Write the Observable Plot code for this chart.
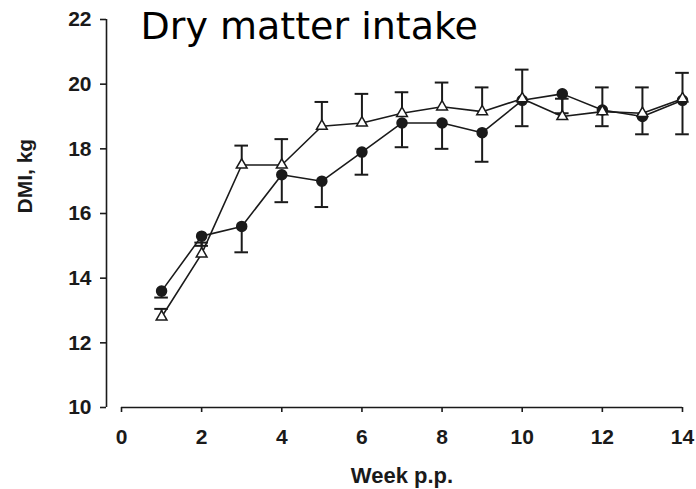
<!DOCTYPE html>
<html>
<head>
<meta charset="utf-8">
<script src="https://cdn.jsdelivr.net/npm/d3@7"></script>
<script src="https://cdn.jsdelivr.net/npm/@observablehq/plot@0.6"></script>
<style>
  html, body { margin: 0; padding: 0; background: #fff; }
</style>
</head>
<body>
<div id="chart"></div>
<script>
const weeks = [1, 2, 3, 4, 5, 6, 7, 8, 9, 10, 11, 12, 13, 14];
const dmiFilled = [13.6, 15.3, 15.6, 17.2, 17.0, 17.9, 18.8, 18.8, 18.5, 19.5, 19.7, 19.2, 19.0, 19.5];
const dmiFilledLow = [13.4, 15.0, 14.8, 16.35, 16.2, 17.2, 18.05, 18.0, 17.6, 18.7, 19.1, 18.7, 18.45, 18.45];
const dmiOpen = [12.8, 14.75, 17.5, 17.5, 18.7, 18.8, 19.1, 19.3, 19.15, 19.55, 19.0, 19.15, 19.1, 19.55];
const dmiOpenHigh = [13.05, 15.1, 18.1, 18.3, 19.45, 19.7, 19.75, 20.05, 19.9, 20.45, 19.55, 19.9, 19.9, 20.35];
const xTicks = [0, 2, 4, 6, 8, 10, 12, 14];
const yTicks = [10, 12, 14, 16, 18, 20, 22];
const titleText = "Dry matter intake";
const xLabel = "Week p.p.";
const yLabel = "DMI, kg";

const filled = weeks.map((w, i) => ({week: w, v: dmiFilled[i], e: dmiFilledLow[i]}));
const open = weeks.map((w, i) => ({week: w, v: dmiOpen[i], e: dmiOpenHigh[i]}));
const capHalf = 0.17;

const ink = "#1a1a1a";

const chart = Plot.plot({
  width: 696,
  height: 489,
  marginLeft: 121,
  marginRight: 14,
  marginTop: 19,
  marginBottom: 82,
  style: {fontFamily: "Liberation Sans, Arial, sans-serif", fontSize: "21px", fontWeight: "bold", color: ink, background: "#fff"},
  x: {domain: [0, 14]},
  y: {domain: [10, 22]},
  marks: [
    // axis lines
    Plot.ruleY([10], {stroke: ink, strokeWidth: 1.6}),
    Plot.ruleX([0], {y1: 10, y2: 22, dx: -15, stroke: ink, strokeWidth: 1.6}),
    Plot.axisX({ticks: xTicks, tickSize: 5, tickPadding: 17, tickFormat: d => d, stroke: ink, strokeWidth: 1.6, label: null, fontSize: 21, fontWeight: "bold"}),
    Plot.axisY({ticks: yTicks, tickSize: 6, tickPadding: 9, dx: -15, tickFormat: d => d, stroke: ink, strokeWidth: 1.6, label: null, fontSize: 21, fontWeight: "bold"}),
    // lines
    Plot.line(open, {x: "week", y: "v", stroke: ink, strokeWidth: 1.6}),
    Plot.line(filled, {x: "week", y: "v", stroke: ink, strokeWidth: 1.6}),
    // error bars
    Plot.ruleX(open, {x: "week", y1: "v", y2: "e", stroke: ink, strokeWidth: 2}),
    Plot.ruleY(open, {y: "e", x1: d => d.week - capHalf, x2: d => d.week + capHalf, stroke: ink, strokeWidth: 2}),
    Plot.ruleX(filled, {x: "week", y1: "v", y2: "e", stroke: ink, strokeWidth: 2}),
    Plot.ruleY(filled, {y: "e", x1: d => d.week - capHalf, x2: d => d.week + capHalf, stroke: ink, strokeWidth: 2}),
    // markers
    Plot.dot(filled, {x: "week", y: "v", r: 5, fill: ink, stroke: ink}),
    Plot.dot(open, {x: "week", y: "v", r: 4, symbol: "triangle", fill: "#fff", stroke: ink, strokeWidth: 1.5}),
    // axis titles
    Plot.text([xLabel], {frameAnchor: "bottom", dy: 68, lineAnchor: "middle", fontSize: 22, fontWeight: "bold", fill: ink}),
    Plot.text([yLabel], {frameAnchor: "left", dx: -96, rotate: -90, lineAnchor: "middle", fontSize: 21, fontWeight: "bold", fill: ink}),
    // title
    Plot.text([titleText], {frameAnchor: "top-left", dx: 19, dy: 19.5, textAnchor: "start", lineAnchor: "bottom", fontSize: 38, fontWeight: "normal", fontFamily: "DejaVu Sans, sans-serif", fill: "#000"})
  ]
});
document.getElementById("chart").appendChild(chart);
</script>
</body>
</html>
